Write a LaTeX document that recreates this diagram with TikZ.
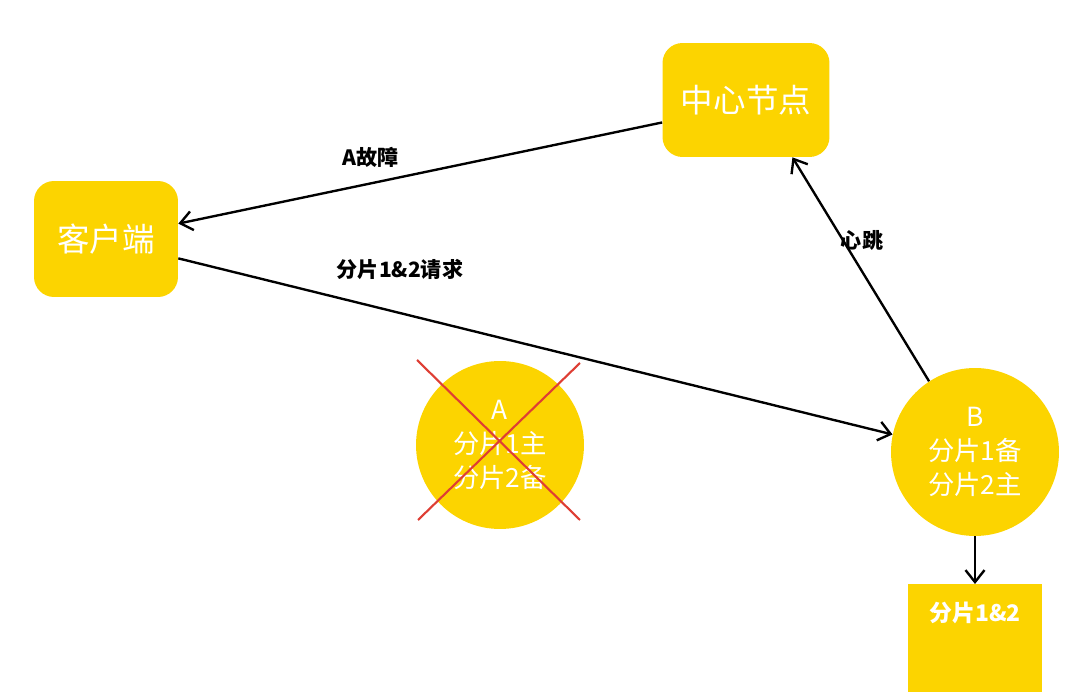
\documentclass[tikz,border=0pt]{standalone}
\usepackage{fontspec}
\setmainfont{Noto Sans CJK SC}
\usepackage{xcolor}
\usetikzlibrary{arrows.meta,positioning}

\definecolor{nodeyellow}{RGB}{252,212,0}
\definecolor{crossred}{RGB}{222,62,52}

\begin{document}
\begin{tikzpicture}[
    x=0.02cm, y=-0.02cm,
    box/.style={rectangle, fill=nodeyellow, rounded corners=0.4cm, text=white, align=center, font=\fontsize{18.5}{22}\selectfont},
    disk/.style={circle, fill=nodeyellow, minimum size=3.36cm, inner sep=0pt, text=white, align=center, font=\fontsize{15}{19.5}\selectfont},
    tag/.style={font=\fontsize{12}{14}\selectfont\bfseries, text=black},
    arrow/.style={-{Straight Barb[length=2.4mm,width=3.8mm]}, line width=1.35pt},
    cross/.style={crossred, line width=1.2pt}
]
\useasboundingbox (0,0) rectangle (1080,692);
\clip (0,0) rectangle (1080,692);

% Nodes
\node[box, minimum width=3.34cm, minimum height=2.28cm] (zx) at (746,100) {中心节点};
\node[box, minimum width=2.88cm, minimum height=2.32cm] (kh) at (106,239) {客户端};
\node[disk] (a) at (500,445) {A\\分片1主\\分片2备};
\node[disk] (b) at (975,452) {B\\分片1备\\分片2主};
\node[box, rounded corners=0pt, anchor=north, minimum width=2.68cm, text height=0.62cm, text depth=1.6cm, font=\fontsize{13}{16}\selectfont\bfseries] (fp) at (975,584) {分片1\&2};

% A is down
\coordinate (x1) at ([shift={(-83,-85)}]a.center);
\coordinate (x2) at ([shift={(80,75)}]a.center);
\coordinate (x3) at ([shift={(80,-82)}]a.center);
\coordinate (x4) at ([shift={(-82,75)}]a.center);
\draw[cross] (x1) -- (x2);
\draw[cross] (x3) -- (x4);

% Arrows
\draw[arrow] (zx.195) -- (kh.12);
\draw[arrow] (kh.-15) -- (b.168);
\draw[arrow] (b.123) -- (zx.-51);
\draw[arrow] (b.south) -- (fp.north);

% Labels
\node[tag] (fault) at (371,157) {A故障};
\node[tag] (req) at (400,270) {分片1\&2请求};
\node[tag] (beat) at (862,240) {心跳};

\end{tikzpicture}
\end{document}
